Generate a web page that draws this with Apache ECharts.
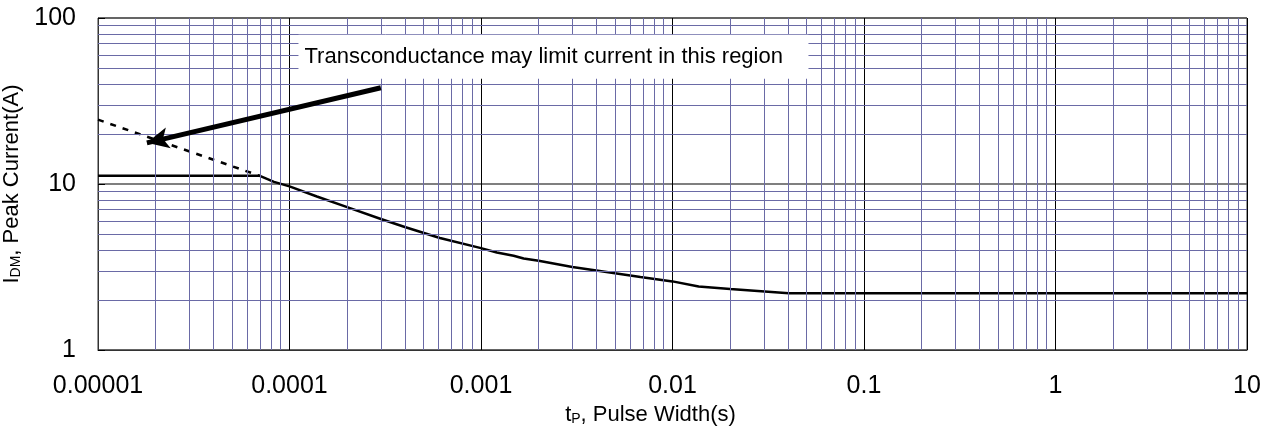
<!DOCTYPE html>
<html>
<head>
<meta charset="utf-8">
<script src="https://cdn.jsdelivr.net/npm/echarts@6/dist/echarts.min.js"></script>
<style>
html,body{margin:0;padding:0;background:#fff;}
#chart{width:1274px;height:426px;}
</style>
</head>
<body>
<div id="chart"></div>
<script>
// ---- data ----
const xTickLabels = ['0.00001', '0.0001', '0.001', '0.01', '0.1', '1', '10'];
const yTickLabels = ['1', '10', '100'];
const pulseWidth = [1e-5, 7.0e-5, 8.3e-5, 1e-4, 1.39e-4, 2.0e-4, 3.0e-4, 4.0e-4, 6.1e-4, 1e-3, 1.21e-3, 1.48e-3, 1.67e-3, 2.0e-3, 3.0e-3, 4.0e-3, 6.8e-3, 1e-2, 1.37e-2, 2.0e-2, 4.05e-2, 10];
const peakCurrent = [11.2, 11.2, 10.3, 9.67, 8.41, 7.26, 6.15, 5.51, 4.73, 4.11, 3.87, 3.70, 3.56, 3.45, 3.16, 3.01, 2.75, 2.59, 2.41, 2.33, 2.20, 2.20];
const dashedX = [1e-5, 7.0e-5];
const dashedY = [24.4, 11.2];
const arrowFrom = [3.0e-4, 38];
const arrowTo = [1.8e-5, 17.7];
const noteText = 'Transconductance may limit current in this region';
const noteAt = [2.39e-3, 58.5];
const xDecades = [1e-5, 1e-4, 1e-3, 1e-2, 1e-1, 1];
const yDecades = [1, 10];
const minorSteps = [2, 3, 4, 5, 6, 7, 8, 9];

const FONT = 'Liberation Sans, Arial, sans-serif';
const MINOR = '#6a6aa6';

const xMinor = [];
xDecades.forEach(d => minorSteps.forEach(m => xMinor.push({ xAxis: d * m })));
const yMinor = [];
yDecades.forEach(d => minorSteps.forEach(m => yMinor.push({ yAxis: d * m })));

const chart = echarts.init(document.getElementById('chart'), null, { renderer: 'canvas' });
const option = {
  animation: false,
  backgroundColor: '#fff',
  textStyle: { fontFamily: FONT },
  grid: { left: 98, right: 27, top: 18, bottom: 76, containLabel: false, outerBoundsMode: 'none', show: true, borderColor: '#333', borderWidth: 1, backgroundColor: 'transparent' },
  xAxis: {
    type: 'log', logBase: 10, min: 1e-5, max: 10,
    axisLine: { show: true, lineStyle: { color: '#333', width: 1 } },
    axisTick: { show: false },
    splitLine: { show: true, lineStyle: { color: '#000', width: 1 } },
    axisLabel: {
      fontSize: 25, color: '#000', fontFamily: FONT, margin: 24,
      formatter: v => xTickLabels[Math.round(Math.log10(v) + 5)]
    },
    name: '{i|t}{s|P}{i|, Pulse Width(s)}',
    nameLocation: 'middle', nameGap: 52,
    nameTextStyle: {
      padding: [0, 44, 0, 0],
      rich: {
        i: { fontSize: 22, color: '#000', fontFamily: FONT, verticalAlign: 'bottom' },
        s: { fontSize: 14, color: '#000', fontFamily: FONT, verticalAlign: 'bottom' }
      }
    }
  },
  yAxis: {
    type: 'log', logBase: 10, min: 1, max: 100,
    axisLine: { show: true, lineStyle: { color: '#333', width: 1 } },
    axisTick: { show: true, inside: true, length: 7, lineStyle: { color: '#000' } },
    splitLine: { show: true, lineStyle: { color: '#555', width: 1.5 } },
    axisLabel: {
      fontSize: 25, color: '#000', fontFamily: FONT, margin: 22,
      formatter: v => yTickLabels[Math.round(Math.log10(v))]
    },
    name: '{i|I}{s|DM}{i|, Peak Current(A)}',
    nameLocation: 'middle', nameRotate: 90, nameGap: 72,
    nameTextStyle: {
      rich: {
        i: { fontSize: 22, color: '#000', fontFamily: FONT, verticalAlign: 'bottom' },
        s: { fontSize: 14, color: '#000', fontFamily: FONT, verticalAlign: 'bottom' }
      }
    }
  },
  series: [
    {
      name: 'gridlines', type: 'line', data: [], z: 1, silent: true,
      markLine: {
        silent: true, symbol: 'none', animation: false, precision: 12,
        label: { show: false },
        lineStyle: { color: MINOR, width: 1, type: 'solid' },
        data: xMinor.concat(yMinor)
      }
    },
    {
      name: 'limit', type: 'line', z: 3, symbol: 'none', silent: true,
      lineStyle: { color: '#000', width: 2.5, type: [6, 7] },
      data: dashedX.map((x, i) => [x, dashedY[i]])
    },
    {
      name: 'IDM', type: 'line', z: 4, symbol: 'none', silent: true,
      lineStyle: { color: '#000', width: 2.5 },
      data: pulseWidth.map((x, i) => [x, peakCurrent[i]])
    },
    {
      name: 'arrow', type: 'line', data: [], z: 5, silent: true,
      markLine: {
        silent: true, animation: false, precision: 12,
        symbol: ['none', 'arrow'], symbolSize: [16, 22],
        label: { show: false },
        lineStyle: { color: '#000', width: 5, type: 'solid' },
        data: [[{ coord: arrowFrom }, { coord: arrowTo }]]
      }
    },
    {
      name: 'note', type: 'line', data: [], z: 6, silent: true,
      markPoint: {
        silent: true, animation: false, precision: 12,
        symbol: 'rect', symbolSize: [510, 44],
        itemStyle: { color: '#fff' },
        label: {
          show: true, position: 'insideLeft', distance: 6,
          formatter: noteText, color: '#000', fontSize: 22, fontFamily: FONT
        },
        data: [{ coord: noteAt }]
      }
    }
  ]
};
chart.setOption(option);
</script>
</body>
</html>
